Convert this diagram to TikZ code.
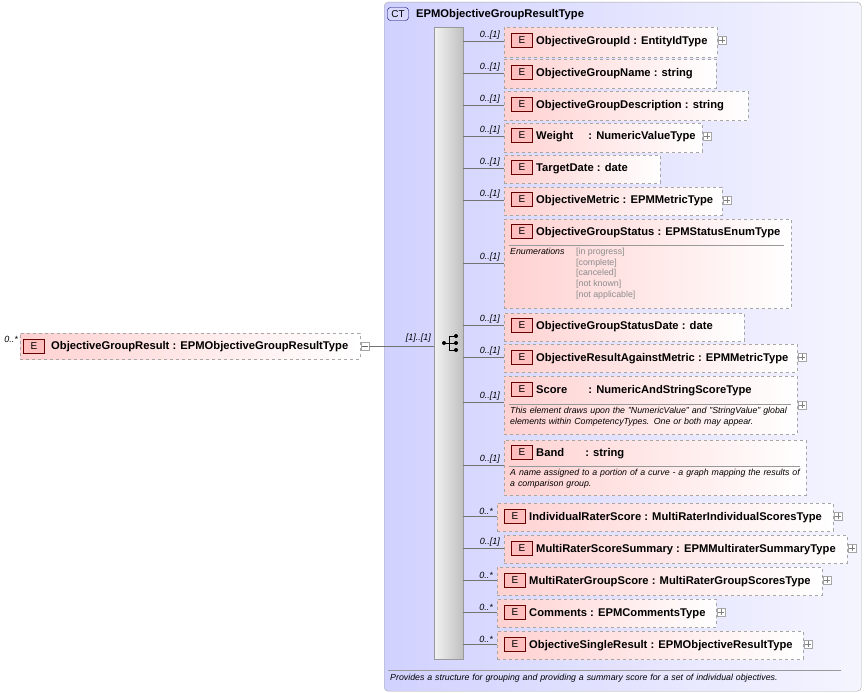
\documentclass[tikz,border=0pt]{standalone}
\usepackage{fontspec}
\setmainfont{Liberation Sans}
\begin{document}
\begin{tikzpicture}[x=1pt,y=-1pt,
  ebox/.style={draw=black!35,dashed,rectangle,left color=red!18,right color=white,inner sep=0pt},
  badge/.style={draw=red!40!black,fill=red!25,minimum width=21pt,minimum height=14pt,inner sep=0pt,font=\fontsize{10}{11}\selectfont},
  lbl/.style={anchor=west,font=\bfseries\fontsize{11.2}{13}\selectfont,inner sep=0pt},
  mult/.style={anchor=south east,font=\itshape\fontsize{9}{10}\selectfont,inner sep=1pt},
  note/.style={anchor=north west,font=\itshape\fontsize{8.8}{10.5}\selectfont,inner sep=0pt,align=left,text width=290pt},
  pl/.style={draw=black!35,fill=white,minimum size=8pt,inner sep=0pt},
  conn/.style={draw=black!55,line width=0.5pt}]
\useasboundingbox (0,0) rectangle (865,693);
% complex type
\node[draw=black!35,rounded corners=4pt,left color=blue!18,right color=blue!4,minimum width=477pt,minimum height=689pt,anchor=north west,inner sep=0pt] (ct) at (384,2) {};
\node[draw=blue!40!black,rounded corners=3pt,fill=blue!15,font=\fontsize{10}{11}\selectfont,inner sep=1pt,minimum width=21pt,minimum height=13pt] (ctb) at (398,14) {CT};
\node[lbl,anchor=west] (ctt) at (416,15) {EPMObjectiveGroupResultType};
\draw[black!40] (388,670) -- (841,670);
\node[note,anchor=west,text width=460pt] (ctn) at (390,678) {Provides a structure for grouping and providing a summary score for a set of individual objectives.};
% sequence bar
\node[draw=black!40,left color=black!5,right color=black!25,minimum width=29pt,minimum height=632pt,anchor=north west,inner sep=0pt] (seq) at (434,27) {};
\draw[line width=0.8pt] (444,343) -- (449,343) (449,336) -- (449,350) (449,336)--(456,336) (449,343)--(456,343) (449,350)--(456,350);
\fill (444,343) circle [radius=2] (456,336) circle [radius=2] (456,343) circle [radius=2] (456,350) circle [radius=2];
% root element
\node[ebox,minimum width=340pt,minimum height=26pt,anchor=north west] (root) at (20,333) {};
\node[badge] (rootb) at (34,346) {E};
\node[lbl] (rootl) at (51,347) {ObjectiveGroupResult : EPMObjectiveGroupResultType};
\node[mult,anchor=east] (rootm) at (19,339) {0..*};
\node[pl] (rootp) at (365,346) {};
\draw[black!60] (362,346) -- (368,346);
\draw[conn] (rootp.east) -- (seq.west |- rootp.east);
\node[mult] at (432,344) {[1]..[1]};
% elements
\newcommand{\myel}[7]{%
  \node[ebox,minimum width=#4pt-#2pt,minimum height=#5pt-#3pt,anchor=north west] (#1) at (#2,#3) {};
  \draw[conn] (seq.east |- 0,#6) -- (#1.west |- 0,#6);
  \node[mult] at (#2-3,#6) {#7};
}
\newcommand{\myplus}[3]{%
  \node[pl] (#1) at (#2,#3) {};
  \draw[black!50] (#2-3,#3) -- (#2+3,#3) (#2,#3-3) -- (#2,#3+3);
}
\newcommand{\myhead}[4]{%
  \node[badge] (#1b) at (#2+18,#3) {E};
  \node[lbl] (#1l) at (#2+32,#3+1.5) {#4};
}
\myel{e1}{504}{27}{717}{57}{41}{0..[1]}\myhead{e1}{504}{40}{ObjectiveGroupId : EntityIdType}\myplus{e1p}{722}{40}
\myel{e2}{504}{59}{716}{88}{73}{0..[1]}\myhead{e2}{504}{72}{ObjectiveGroupName : string}
\myel{e3}{504}{91}{748}{120}{105}{0..[1]}\myhead{e3}{504}{104}{ObjectiveGroupDescription : string}
\myel{e4}{504}{123}{702}{152}{136}{0..[1]}\myhead{e4}{504}{135}{Weight\hspace{12pt} : NumericValueType}\myplus{e4p}{707}{136}
\myel{e5}{504}{155}{660}{183}{168}{0..[1]}\myhead{e5}{504}{167}{TargetDate : date}
\myel{e6}{504}{187}{722}{215}{200}{0..[1]}\myhead{e6}{504}{199}{ObjectiveMetric : EPMMetricType}\myplus{e6p}{727}{200}
\myel{e7}{504}{219}{791}{308}{263}{0..[1]}\myhead{e7}{504}{231}{ObjectiveGroupStatus : EPMStatusEnumType}
\draw[black!40] (509,245) -- (784,245);
\node[note,text width=70pt] (e7n) at (510,248) {Enumerations};
\node[anchor=north west,inner sep=0pt,font=\fontsize{8.8}{10.7}\selectfont,text=black!45,align=left] (e7v) at (576,248) {[in progress]\\{}[complete]\\{}[canceled]\\{}[not known]\\{}[not applicable]};
\myel{e8}{504}{313}{744}{341}{325}{0..[1]}\myhead{e8}{504}{325}{ObjectiveGroupStatusDate : date}
\myel{e9}{504}{344}{797}{372}{357}{0..[1]}\myhead{e9}{504}{357}{ObjectiveResultAgainstMetric : EPMMetricType}\myplus{e9p}{802}{357}
\myel{e10}{504}{376}{797}{434}{402}{0..[1]}\myhead{e10}{504}{389}{Score\hspace{18pt} : NumericAndStringScoreType}\myplus{e10p}{802}{405}
\draw[black!40] (509,404) -- (791,404);
\node[note] (e10n) at (510,407) {This element draws upon the "NumericValue" and "StringValue" global elements within CompetencyTypes. One or both may appear.};
\myel{e11}{504}{440}{806}{495}{465}{0..[1]}\myhead{e11}{504}{452}{Band\hspace{18pt} : string}
\draw[black!40] (509,466) -- (800,466);
\node[note] (e11n) at (510,469) {A name assigned to a portion of a curve - a graph mapping the results of a comparison group.};
\myel{e12}{497}{503}{833}{531}{516}{0..*}\myhead{e12}{497}{516}{IndividualRaterScore : MultiRaterIndividualScoresType}\myplus{e12p}{838}{516}
\myel{e13}{504}{535}{847}{563}{548}{0..[1]}\myhead{e13}{504}{548}{MultiRaterScoreSummary : EPMMultiraterSummaryType}\myplus{e13p}{852}{548}
\myel{e14}{497}{567}{822}{595}{580}{0..*}\myhead{e14}{497}{580}{MultiRaterGroupScore : MultiRaterGroupScoresType}\myplus{e14p}{827}{580}
\myel{e15}{497}{599}{716}{627}{612}{0..*}\myhead{e15}{497}{612}{Comments : EPMCommentsType}\myplus{e15p}{721}{612}
\myel{e16}{497}{631}{803}{659}{644}{0..*}\myhead{e16}{497}{644}{ObjectiveSingleResult : EPMObjectiveResultType}\myplus{e16p}{808}{644}
\end{tikzpicture}
\end{document}
